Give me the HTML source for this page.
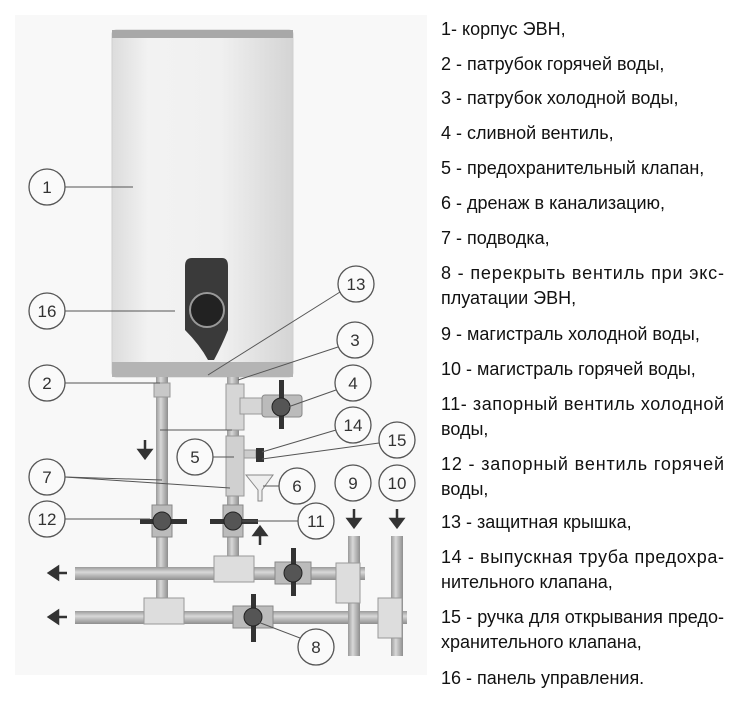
<!DOCTYPE html>
<html><head><meta charset="utf-8"><style>
html,body{margin:0;padding:0;background:#fff;}
body{width:747px;height:701px;overflow:hidden;position:relative;font-family:"Liberation Sans","DejaVu Sans",sans-serif;}
svg{position:absolute;left:0;top:0;}
.t{font-family:"Liberation Sans","DejaVu Sans",sans-serif;font-size:18px;fill:#111;}
.n{font-family:"Liberation Sans",sans-serif;font-size:17px;fill:#333;text-anchor:middle;}
</style></head><body>
<svg width="747" height="701" viewBox="0 0 747 701">
<defs>
<linearGradient id="tank" x1="0" x2="1">
<stop offset="0" stop-color="#dcdcdc"/><stop offset="0.2" stop-color="#f2f2f2"/><stop offset="0.6" stop-color="#f0f0f0"/><stop offset="1" stop-color="#d4d4d4"/></linearGradient>
<linearGradient id="pv" x1="0" x2="1"><stop offset="0" stop-color="#9a9a9a"/><stop offset="0.4" stop-color="#d8d8d8"/><stop offset="1" stop-color="#8e8e8e"/></linearGradient>
<linearGradient id="ph" x1="0" x2="0" y1="0" y2="1"><stop offset="0" stop-color="#9a9a9a"/><stop offset="0.4" stop-color="#d8d8d8"/><stop offset="1" stop-color="#8e8e8e"/></linearGradient>
</defs>
<rect x="15" y="15" width="412" height="660" fill="#f8f8f8"/>
<!-- tank -->
<rect x="112" y="30" width="181" height="347" rx="4" fill="url(#tank)" stroke="#d0d0d0"/>
<rect x="112" y="30" width="181" height="8" fill="#a8a8a8"/>
<rect x="112" y="362" width="181" height="15" fill="#b4b4b4"/>
<!-- panel -->
<path d="M192 258 H222 Q228 258 228 266 V330 Q222 345 214 360 H208 Q200 345 185 330 V266 Q185 258 192 258Z" fill="#3a3a3a"/>
<circle cx="207" cy="310" r="17" fill="#222" stroke="#999" stroke-width="2"/>
<!-- pipes vertical -->
<rect x="156" y="377" width="12" height="240" fill="url(#pv)"/>
<rect x="227" y="377" width="12" height="196" fill="url(#pv)"/>
<rect x="154" y="383" width="16" height="14" fill="#c8c8c8" stroke="#999"/>
<rect x="226" y="384" width="18" height="46" fill="#d6d6d6" stroke="#999"/>
<rect x="240" y="398" width="24" height="16" fill="#d6d6d6" stroke="#999"/>
<rect x="262" y="395" width="40" height="22" rx="3" fill="#bbb" stroke="#888"/>
<rect x="279" y="380" width="5" height="49" fill="#333"/>
<circle cx="281" cy="407" r="9" fill="#555" stroke="#222"/>
<rect x="226" y="436" width="18" height="60" fill="#d0d0d0" stroke="#999"/>
<rect x="244" y="450" width="12" height="8" fill="#ccc" stroke="#999"/>
<rect x="256" y="448" width="8" height="14" fill="#333"/>
<path d="M246 475 H273 L262 490 V501 H258 V490Z" fill="#eee" stroke="#888"/>
<!-- horizontals -->
<rect x="75" y="567" width="290" height="13" fill="url(#ph)"/>
<rect x="75" y="611" width="332" height="13" fill="url(#ph)"/>
<rect x="348" y="536" width="12" height="120" fill="url(#pv)"/>
<rect x="391" y="536" width="12" height="120" fill="url(#pv)"/>
<rect x="214" y="556" width="40" height="26" fill="#ddd" stroke="#999"/>
<rect x="144" y="598" width="40" height="26" fill="#ddd" stroke="#999"/>
<rect x="336" y="563" width="24" height="40" fill="#ddd" stroke="#999"/>
<rect x="378" y="598" width="24" height="40" fill="#ddd" stroke="#999"/>
<!-- valves -->
<g fill="#bbb" stroke="#888">
<rect x="152" y="505" width="20" height="32"/><rect x="223" y="505" width="20" height="32"/>
<rect x="275" y="562" width="36" height="22"/><rect x="233" y="606" width="40" height="22"/></g>
<g fill="#333">
<rect x="140" y="519" width="47" height="5"/><rect x="210" y="519" width="48" height="5"/>
<rect x="291" y="548" width="5" height="48"/><rect x="251" y="594" width="5" height="48"/></g>
<g fill="#555" stroke="#222"><circle cx="162" cy="521" r="9"/><circle cx="233" cy="521" r="9"/><circle cx="293" cy="573" r="9"/><circle cx="253" cy="617" r="9"/></g>
<!-- arrows -->
<g fill="#333" stroke="#333" stroke-width="2.5">
<line x1="145" y1="440" x2="145" y2="452"/><path d="M139 450 L151 450 L145 458Z"/>
<line x1="260" y1="545" x2="260" y2="533"/><path d="M254 535 L266 535 L260 527Z"/>
<line x1="354" y1="509" x2="354" y2="521"/><path d="M348 519 L360 519 L354 527Z"/>
<line x1="397" y1="509" x2="397" y2="521"/><path d="M391 519 L403 519 L397 527Z"/>
<line x1="67" y1="573" x2="56" y2="573"/><path d="M58 567 L58 579 L49 573Z"/>
<line x1="67" y1="617" x2="56" y2="617"/><path d="M58 611 L58 623 L49 617Z"/></g>
<!-- leader lines -->
<g stroke="#555" stroke-width="1" fill="none">
<line x1="65" y1="187" x2="133" y2="187"/><line x1="65" y1="311" x2="175" y2="311"/>
<line x1="65" y1="383" x2="160" y2="383"/><line x1="340" y1="292" x2="208" y2="375"/>
<line x1="338" y1="347" x2="238" y2="380"/><line x1="336" y1="390" x2="288" y2="407"/>
<line x1="160" y1="430" x2="232" y2="430"/><line x1="213" y1="457" x2="234" y2="457"/>
<line x1="336" y1="430" x2="262" y2="452"/><line x1="379" y1="443" x2="262" y2="459"/>
<line x1="279" y1="486" x2="263" y2="486"/><line x1="65" y1="477" x2="162" y2="480"/><line x1="65" y1="477" x2="230" y2="488"/>
<line x1="65" y1="519" x2="150" y2="519"/><line x1="298" y1="521" x2="242" y2="521"/>
<line x1="300" y1="638" x2="258" y2="622"/></g>
<!-- numbered circles -->
<g fill="#fafafa" stroke="#555" stroke-width="1.3">
<circle cx="47" cy="187" r="18"/><circle cx="47" cy="311" r="18"/><circle cx="356" cy="284" r="18"/>
<circle cx="355" cy="340" r="18"/><circle cx="47" cy="383" r="18"/><circle cx="353" cy="383" r="18"/>
<circle cx="353" cy="425" r="18"/><circle cx="397" cy="440" r="18"/><circle cx="195" cy="457" r="18"/>
<circle cx="47" cy="477" r="18"/><circle cx="297" cy="486" r="18"/><circle cx="353" cy="483" r="18"/>
<circle cx="397" cy="483" r="18"/><circle cx="47" cy="519" r="18"/><circle cx="316" cy="521" r="18"/>
<circle cx="316" cy="647" r="18"/></g>
<g class="n">
<text x="47" y="193">1</text><text x="47" y="317">16</text><text x="356" y="290">13</text>
<text x="355" y="346">3</text><text x="47" y="389">2</text><text x="353" y="389">4</text>
<text x="353" y="431">14</text><text x="397" y="446">15</text><text x="195" y="463">5</text>
<text x="47" y="483">7</text><text x="297" y="492">6</text><text x="353" y="489">9</text>
<text x="397" y="489">10</text><text x="47" y="525">12</text><text x="316" y="527">11</text>
<text x="316" y="653">8</text></g>
<!-- legend -->
<g class="t">
<text x="441" y="35">1- корпус ЭВН,</text>
<text x="441" y="70">2 - патрубок горячей воды,</text>
<text x="441" y="104">3 - патрубок холодной воды,</text>
<text x="441" y="139">4 - сливной вентиль,</text>
<text x="441" y="174">5 - предохранительный клапан,</text>
<text x="441" y="209">6 - дренаж в канализацию,</text>
<text x="441" y="244">7 - подводка,</text>
<text x="441" y="279" textLength="283">8 - перекрыть вентиль при экс-</text>
<text x="441" y="304">плуатации ЭВН,</text>
<text x="441" y="340">9 - магистраль холодной воды,</text>
<text x="441" y="375">10 - магистраль горячей воды,</text>
<text x="441" y="410" textLength="283">11- запорный вентиль холодной</text>
<text x="441" y="435">воды,</text>
<text x="441" y="470" textLength="283">12 - запорный вентиль горячей</text>
<text x="441" y="495">воды,</text>
<text x="441" y="528">13 - защитная крышка,</text>
<text x="441" y="563" textLength="283">14 - выпускная труба предохра-</text>
<text x="441" y="588">нительного клапана,</text>
<text x="441" y="623" textLength="283">15 - ручка для открывания предо-</text>
<text x="441" y="648">хранительного клапана,</text>
<text x="441" y="684">16 - панель управления.</text>
</g>
</svg>
</body></html>
